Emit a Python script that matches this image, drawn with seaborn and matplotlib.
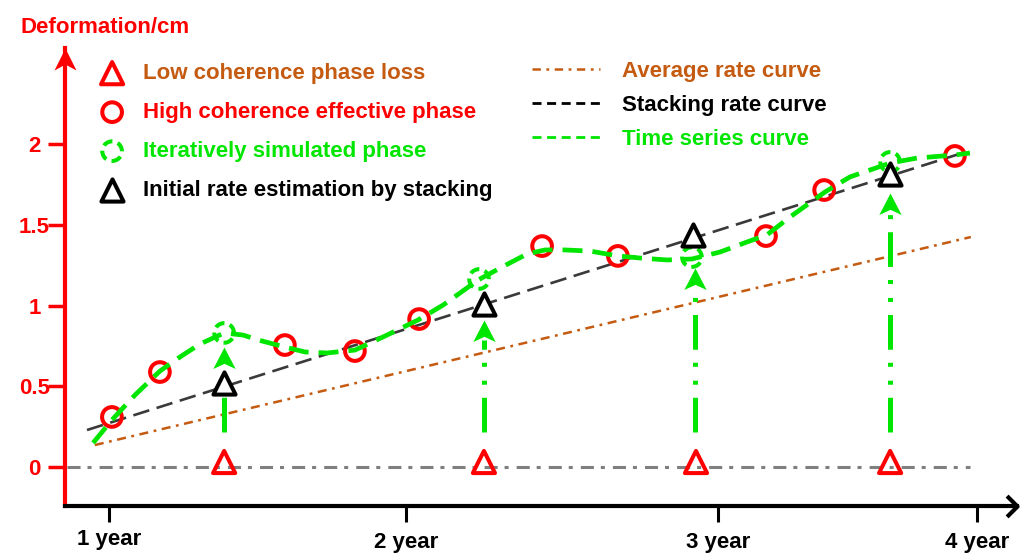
import numpy as np
import pandas as pd
import matplotlib
matplotlib.use("Agg")
import matplotlib.pyplot as plt
from matplotlib.path import Path
from matplotlib.lines import Line2D
import seaborn as sns

# ---------------- data ----------------
year_ticks = [1.0, 2.027, 3.105, 4.0]
year_labels = ["1 year", "2 year", "3 year", "4 year"]
y_ticks = [0, 0.5, 1, 1.5, 2]
y_labels = ["0", "0.5", "1", "1.5", "2"]

# high coherence effective phase (red circles)
high_t = [1.010, 1.176, 1.608, 1.850, 2.072, 2.497, 2.759, 3.271, 3.472, 3.924]
high_v = [0.310, 0.588, 0.755, 0.718, 0.916, 1.368, 1.307, 1.430, 1.715, 1.926]

# low coherence phase loss (red triangles)
low_t = [1.398, 2.296, 3.029, 3.700]
low_v = [0.031, 0.031, 0.031, 0.031]

# initial rate estimation by stacking (black triangles)
stack_t = [1.398, 2.296, 3.019, 3.700]
stack_v = [0.520, 1.009, 1.437, 1.814]

# iteratively simulated phase (green dashed circles)
sim_t = [1.398, 2.279, 3.015, 3.700]
sim_v = [0.830, 1.164, 1.300, 1.889]

# arrows from lost phase to simulated phase
arrow_t = [1.398, 2.296, 3.026, 3.700]
arrow_tail = [0.217, 0.217, 0.217, 0.217]
arrow_tip = [0.743, 0.910, 1.232, 1.697]

# average rate curve
avg_t = [0.951, 3.979]
avg_v = [0.136, 1.424]

# stacking rate curve
stk_line_t = [0.924, 3.960]
stk_line_v = [0.229, 1.950]

# zero reference line
zero_t = [0.855, 3.976]
zero_v = [0.0, 0.0]

# time series curve
ts_t = [0.945, 1.010, 1.090, 1.176, 1.245, 1.315, 1.398, 1.463, 1.529, 1.608,
        1.678, 1.754, 1.850, 1.947, 2.068, 2.155, 2.276, 2.352, 2.445, 2.507,
        2.576, 2.663, 2.759, 2.835, 2.929, 3.015, 3.112, 3.205, 3.274, 3.354,
        3.475, 3.561, 3.700, 3.793, 3.924, 3.976]
ts_v = [0.149, 0.291, 0.446, 0.594, 0.681, 0.762, 0.830, 0.817, 0.780, 0.743,
        0.712, 0.706, 0.724, 0.805, 0.910, 1.003, 1.158, 1.232, 1.319, 1.344,
        1.344, 1.337, 1.307, 1.294, 1.282, 1.288, 1.331, 1.393, 1.437, 1.548,
        1.703, 1.796, 1.882, 1.913, 1.932, 1.944]

# ---------------- style ----------------
RED = "#ff0000"
GREEN = "#00e600"
BROWN = "#c55a11"
DARK = "#3a3a3a"
GREY = "#7f7f7f"

sns.set_style("white")
plt.rcParams["font.family"] = ["Liberation Sans", "DejaVu Sans"]
plt.rcParams["font.weight"] = "bold"
plt.rcParams["lines.scale_dashes"] = False

W, H = 1021, 554
fig = plt.figure(figsize=(W / 100, H / 100), dpi=100)
L, R, T, B = 65, 1017, 48, 506
ax = fig.add_axes([L / W, 1 - B / H, (R - L) / W, (B - T) / H])


def px2t(px):
    return 1 + (px - 109) / 289.3


def py2v(py):
    return (467 - py) / 161.5


ax.set_xlim(px2t(L), px2t(R))
ax.set_ylim(py2v(B), py2v(T))

# ---------------- lines ----------------
sns.lineplot(x=zero_t, y=zero_v, ax=ax, color=GREY, linewidth=2.2,
             linestyle=(0, (9.4, 5, 2.9, 5.8)), legend=False, zorder=2)
sns.lineplot(x=avg_t, y=avg_v, ax=ax, color=BROWN, linewidth=1.8,
             linestyle=(0, (6.5, 4, 2, 4)), legend=False, zorder=2)
sns.lineplot(x=stk_line_t, y=stk_line_v, ax=ax, color=DARK, linewidth=1.9,
             linestyle=(0, (12, 5.5)), legend=False, zorder=3)

# arrow shafts
head_len = 0.125
ax.vlines(arrow_t, arrow_tail, [v - head_len for v in arrow_tip], colors=GREEN,
          linewidth=3.6, linestyles=[(0, (25, 9.4, 2.9, 10, 2.9, 9.4))], zorder=3)

# markers
sns.scatterplot(x=high_t, y=high_v, ax=ax, marker="o", s=200, facecolors="none",
                edgecolors=RED, linewidth=2.9, legend=False, zorder=4)
high_sc = ax.collections[-1]

sns.lineplot(x=ts_t, y=ts_v, ax=ax, color=GREEN, linewidth=3.4,
             linestyle=(0, (14.4, 7.2)), legend=False, zorder=5)

sns.scatterplot(x=low_t, y=low_v, ax=ax, marker="^", s=255, facecolors="none",
                edgecolors=RED, linewidth=2.9, legend=False, zorder=6)
low_sc = ax.collections[-1]

sns.scatterplot(x=sim_t, y=sim_v, ax=ax, marker="o", s=200, facecolors="none",
                edgecolors=GREEN, linewidth=2.9, linestyle=(0, (7, 4)),
                legend=False, zorder=6)
sim_sc = ax.collections[-1]

sns.scatterplot(x=stack_t, y=stack_v, ax=ax, marker="^", s=255, facecolors="white",
                edgecolors="black", linewidth=2.9, legend=False, zorder=6)
stack_sc = ax.collections[-1]

# arrow heads (stealth shape, anchored at tip)
head_path = Path([(0, 0), (-0.52, -1), (0, -0.76), (0.52, -1), (0, 0)],
                 [Path.MOVETO, Path.LINETO, Path.LINETO, Path.LINETO, Path.CLOSEPOLY])
sns.scatterplot(x=arrow_t, y=arrow_tip, ax=ax, marker=head_path, s=31 ** 2,
                color=GREEN, linewidth=0, legend=False, zorder=7)

# ---------------- axes ----------------
sns.despine(ax=ax, top=True, right=True)
ax.spines["left"].set_color(RED)
ax.spines["left"].set_linewidth(3)
ax.spines["bottom"].set_color("black")
ax.spines["bottom"].set_linewidth(3)

ax.set_xticks(year_ticks, year_labels)
ax.set_yticks(y_ticks, y_labels)
ax.tick_params(axis="y", left=True, colors=RED, length=12, width=2.5, pad=10,
               labelsize=16, direction="out")
for lab in ax.get_yticklabels():
    lab.set_horizontalalignment("center")
    lab.set_fontweight("bold")
ax.tick_params(axis="x", bottom=True, colors="black", length=11.5, width=2.2,
               pad=7.2, labelsize=16, direction="out")
for lab in ax.get_xticklabels():
    lab.set_fontweight("bold")
ax.xaxis.get_major_ticks()[0].set_pad(5)
ax.set_xlabel("")
ax.set_ylabel("")
ax.grid(False)

# axis arrows
yhead = Path([(0, 0), (-0.5, -1), (0, -0.73), (0.5, -1), (0, 0)],
             [Path.MOVETO, Path.LINETO, Path.LINETO, Path.LINETO, Path.CLOSEPOLY])
ax.plot([0], [1], marker=yhead, ms=31.7, color=RED, mew=0,
        transform=ax.transAxes, clip_on=False, zorder=8)
xhead = Path([(-1, 1), (0, 0), (-1, -1)], [Path.MOVETO, Path.LINETO, Path.LINETO])
ax.plot([1], [0], marker=xhead, ms=15, color="black", mfc="none", mew=3,
        transform=ax.transAxes, clip_on=False, zorder=8)

fig.text(21 / W, 1 - 33 / H, "Deformation/cm", color=RED, fontsize=16,
         fontweight="bold", ha="left", va="baseline")

# ---------------- legends ----------------
prop = {"weight": "bold", "size": 16}
leg1 = ax.legend(handles=[low_sc, high_sc, sim_sc, stack_sc],
                 labels=["Low coherence phase loss", "High coherence effective phase",
                         "Iteratively simulated phase", "Initial rate estimation by stacking"],
                 loc="upper left", bbox_to_anchor=(101 / W, 1 - 63 / H),
                 bbox_transform=fig.transFigure, frameon=False, borderpad=0,
                 borderaxespad=0, handlelength=1.0, handletextpad=0.9,
                 labelspacing=0.81, scatterpoints=1, prop=prop,
                 labelcolor=[BROWN, RED, GREEN, "black"])
ax.add_artist(leg1)

leg_avg = Line2D([], [], color=BROWN, linewidth=1.8, linestyle=(0, (6, 4, 2, 4)))
leg_stk = Line2D([], [], color="black", linewidth=2.0, linestyle=(0, (6.5, 4)))
leg_ts = Line2D([], [], color=GREEN, linewidth=2.0, linestyle=(0, (6.5, 4)))
leg2 = ax.legend(handles=[leg_avg, leg_stk, leg_ts],
                 labels=["Average rate curve", "Stacking rate curve", "Time series curve"],
                 loc="upper left", bbox_to_anchor=(532 / W, 1 - 61 / H),
                 bbox_transform=fig.transFigure, frameon=False, borderpad=0,
                 borderaxespad=0, handlelength=3.06, handletextpad=1.0,
                 labelspacing=0.58, prop=prop,
                 labelcolor=[BROWN, "black", GREEN])

fig.savefig("out.png", dpi=100)
